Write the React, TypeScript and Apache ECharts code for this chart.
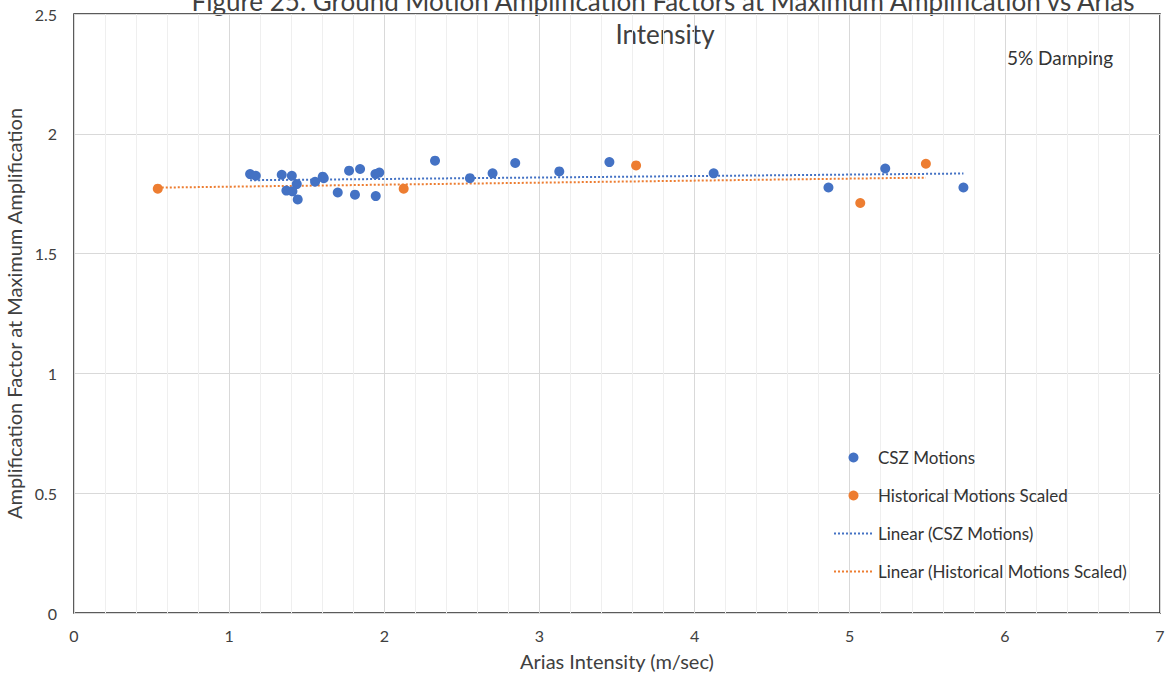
import React, { useEffect, useRef } from "react";
import * as echarts from "echarts";

const cszX = [1.135, 1.172, 1.339, 1.404, 1.436, 1.369, 1.408, 1.442, 1.554, 1.603, 1.61, 1.70, 1.773, 1.811, 1.844, 1.943, 1.968, 1.945, 2.327, 2.552, 2.698, 2.844, 3.128, 3.451, 4.123, 4.863, 5.229, 5.733];
const cszY = [1.832, 1.825, 1.829, 1.825, 1.790, 1.763, 1.760, 1.726, 1.800, 1.821, 1.815, 1.755, 1.846, 1.746, 1.853, 1.832, 1.838, 1.740, 1.888, 1.815, 1.835, 1.878, 1.843, 1.882, 1.835, 1.776, 1.855, 1.776];

const histX = [0.54, 2.125, 3.623, 5.068, 5.491];
const histY = [1.771, 1.771, 1.868, 1.711, 1.875];

const seriesNames = ["CSZ Motions", "Historical Motions Scaled", "Linear (CSZ Motions)", "Linear (Historical Motions Scaled)"];
const titleLines = ["Figure 25. Ground Motion Amplification Factors at Maximum Amplification vs Arias", "Intensity"];
const noteText = "5% Damping";
const xAxisTitle = "Arias Intensity (m/sec)";
const yAxisTitle = "Amplification Factor at Maximum Amplification";

const BLUE = "#4472C4";
const ORANGE = "#ED7D31";
const FONT = "Lato, 'Noto Sans', sans-serif";

function trend(xs: number[], ys: number[]) {
  const n = xs.length;
  const mx = xs.reduce((a, b) => a + b, 0) / n;
  const my = ys.reduce((a, b) => a + b, 0) / n;
  let sxy = 0, sxx = 0;
  for (let i = 0; i < n; i++) {
    sxy += (xs[i] - mx) * (ys[i] - my);
    sxx += (xs[i] - mx) * (xs[i] - mx);
  }
  const b = sxy / sxx;
  const a = my - b * mx;
  const x0 = Math.min(...xs);
  const x1 = Math.max(...xs);
  return [[x0, a + b * x0], [x1, a + b * x1]];
}

export default function App() {
  const ref = useRef<HTMLDivElement>(null);
  useEffect(() => {
    document.body.style.margin = "0";
    const chart = echarts.init(ref.current!, null, { renderer: "svg" });
    const cszData = cszX.map((x, i) => [x, cszY[i]]);
    const histData = histX.map((x, i) => [x, histY[i]]);
    chart.setOption({
      animation: false,
      backgroundColor: "#fff",
      textStyle: { fontFamily: FONT },
      grid: { left: 74, right: 10, top: 14, bottom: 66, show: true, borderColor: "#262626", borderWidth: 1.5, backgroundColor: "transparent", outerBoundsMode: "none", containLabel: false },
      xAxis: {
        type: "value", min: 0, max: 7, interval: 1,
        name: xAxisTitle, nameLocation: "middle", nameGap: 38,
        nameTextStyle: { fontSize: 20, color: "#404040", fontFamily: FONT },
        axisLine: { show: false }, axisTick: { show: false },
        axisLabel: { fontSize: 16, color: "#404040", margin: 14, fontFamily: FONT },
        splitLine: { show: true, lineStyle: { color: "#d9d9d9", width: 1 } },
        minorTick: { show: false, splitNumber: 5 },
        minorSplitLine: { show: true, lineStyle: { color: "#efefef", width: 1 } },
      },
      yAxis: {
        type: "value", min: 0, max: 2.5, interval: 0.5,
        name: yAxisTitle, nameLocation: "middle", nameGap: 42, nameRotate: 90,
        nameTextStyle: { fontSize: 20, color: "#404040", fontFamily: FONT },
        axisLine: { show: false }, axisTick: { show: false },
        axisLabel: { fontSize: 16, color: "#404040", margin: 17, fontFamily: FONT },
        splitLine: { show: true, lineStyle: { color: "#d9d9d9", width: 1 } },
      },
      legend: {
        orient: "vertical", left: 828, top: 444,
        itemWidth: 39, itemHeight: 10, itemGap: 21,
        textStyle: { fontSize: 17, color: "#333", fontFamily: FONT },
        data: [
          { name: seriesNames[0], icon: "circle" },
          { name: seriesNames[1], icon: "circle" },
          { name: seriesNames[2], itemStyle: { opacity: 0 } },
          { name: seriesNames[3], itemStyle: { opacity: 0 } },
        ],
      },
      graphic: [
        { type: "text", x: 663, y: 1, style: { text: titleLines[0], font: `26px ${FONT}`, fill: "#404040", align: "center", verticalAlign: "middle" } },
        { type: "text", x: 665, y: 34, style: { text: titleLines[1], font: `26px ${FONT}`, fill: "#404040", align: "center", verticalAlign: "middle" } },
        { type: "text", x: 1060, y: 57, style: { text: noteText, font: `19px ${FONT}`, fill: "#333", align: "center", verticalAlign: "middle" } },
      ],
      series: [
        { name: seriesNames[2], type: "line", data: trend(cszX, cszY), symbol: "none", showSymbol: false, lineStyle: { color: BLUE, width: 2, type: [2, 2] }, itemStyle: { color: BLUE }, z: 2 },
        { name: seriesNames[3], type: "line", data: trend(histX, histY), symbol: "none", showSymbol: false, lineStyle: { color: ORANGE, width: 2, type: [2, 2] }, itemStyle: { color: ORANGE }, z: 2 },
        { name: seriesNames[0], type: "scatter", data: cszData, symbol: "circle", symbolSize: 10, itemStyle: { color: BLUE, opacity: 1 }, z: 3 },
        { name: seriesNames[1], type: "scatter", data: histData, symbol: "circle", symbolSize: 10, itemStyle: { color: ORANGE, opacity: 1 }, z: 3 },
      ],
    });
    return () => chart.dispose();
  }, []);
  return <div ref={ref} style={{ width: 1170, height: 679, position: "absolute", left: 0, top: 0 }} />;
}
